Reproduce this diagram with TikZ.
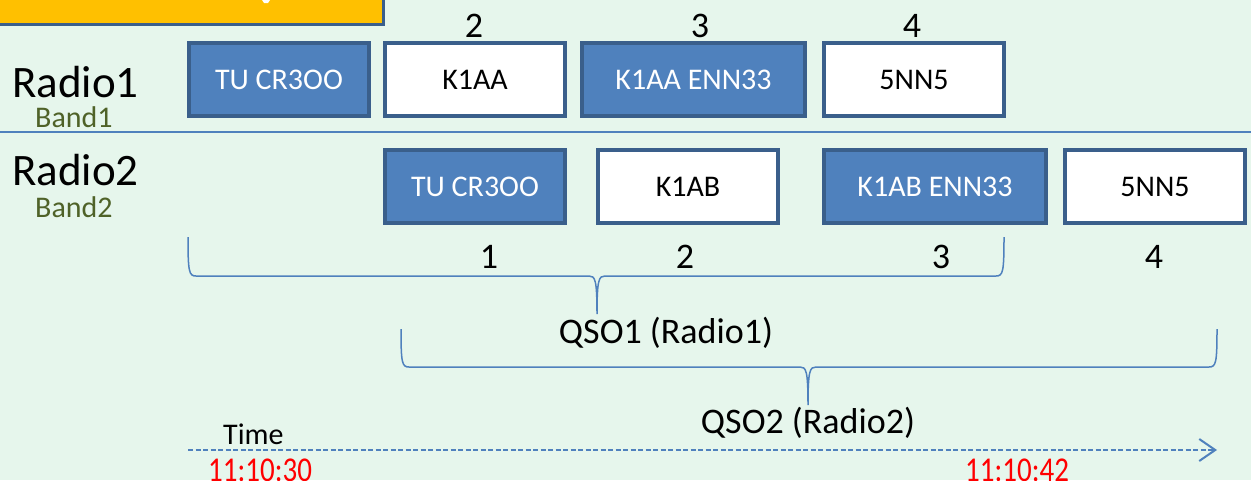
\documentclass[tikz,border=0pt]{standalone}
\usepackage{fontspec}
\setmainfont{Carlito}
\usetikzlibrary{arrows.meta}
\definecolor{bg}{RGB}{230,246,236}
\definecolor{boxfill}{HTML}{4F81BD}
\definecolor{boxline}{HTML}{3A5F8B}
\definecolor{bandgreen}{HTML}{4F6228}
\definecolor{gold}{HTML}{FFC000}
\definecolor{timered}{HTML}{FF0000}
\begin{document}
\begin{tikzpicture}[x=1pt,y=-1pt,
  msg/.style={draw=boxline, line width=4pt, inner sep=0pt, outer sep=0pt,
    minimum height=73pt, font=\fontsize{30}{36}\selectfont},
  sent/.style={msg, fill=boxfill, text=white},
  recv/.style={msg, fill=white, text=black},
  num/.style={font=\fontsize{36}{40}\selectfont, anchor=base, inner sep=0pt},
  radio/.style={font=\fontsize{45}{50}\selectfont, anchor=base west, inner sep=0pt},
  band/.style={font=\fontsize{30}{34}\selectfont, text=bandgreen, anchor=base west, inner sep=0pt},
  qso/.style={font=\fontsize{36}{40}\selectfont, anchor=base, inner sep=0pt},
  clock/.style={font=\fontsize{29}{32}\selectfont, text=timered, anchor=base west, inner sep=0pt},
  bracel/.style={draw=boxfill, line width=1.5pt},
]
\useasboundingbox (0,0) rectangle (1251,480);
\clip (0,0) rectangle (1251,480);
\fill[bg] (0,0) rectangle (1251,480);

% cut-off yellow box
\draw[fill=gold, draw=boxline, line width=3pt] (-20,-20) rectangle (383,24.5);
\fill[white] (262,0) -- (270,0) -- (268,3) -- (264,3) -- cycle;

% divider
\draw[boxfill, line width=1.5pt] (0,132) -- (1251,132);

% labels
\node[radio] (r1) at (12,97) {Radio1};
\node[band] (b1) at (35,127) {Band1};
\node[radio] (r2) at (12,185) {Radio2};
\node[band] (b2) at (35,217) {Band2};

% Radio1 row
\node[sent, minimum width=180pt] (a1) at (279,79.5) {TU CR3OO};
\node[recv, minimum width=180pt] (a2) at (475,79.5) {K1AA};
\node[sent, minimum width=223pt] (a3) at (693.5,79.5) {K1AA ENN33};
\node[recv, minimum width=180pt] (a4) at (914,79.5) {5NN5};
\node[num] (n2) at (474,37) {2};
\node[num] (n3) at (700,37) {3};
\node[num] (n4) at (912,37) {4};

% Radio2 row
\node[sent, minimum width=180pt] (c1) at (475,186.5) {TU CR3OO};
\node[recv, minimum width=180pt] (c2) at (688,186.5) {K1AB};
\node[sent, minimum width=222pt] (c3) at (935,186.5) {K1AB ENN33};
\node[recv, minimum width=180pt] (c4) at (1155,186.5) {5NN5};
\node[num] (m1) at (489,268) {1};
\node[num] (m2) at (685,268) {2};
\node[num] (m3) at (941,268) {3};
\node[num] (m4) at (1154,268) {4};

% brace 1
\draw[bracel] (188,237) .. controls (188,272) and (189,276) .. (196,276)
  -- (589,276) .. controls (595,276) and (597,279) .. (597,314)
  .. controls (597,279) and (599,276) .. (605,276)
  -- (996,276) .. controls (1003,276) and (1004,272) .. (1004,237);
\node[qso] (q1) at (666,343) {QSO1 (Radio1)};

% brace 2
\draw[bracel] (401,329) .. controls (401,363) and (402,367) .. (409,367)
  -- (800,367) .. controls (806,367) and (808,370) .. (808,405)
  .. controls (808,370) and (810,367) .. (816,367)
  -- (1209,367) .. controls (1216,367) and (1217,363) .. (1217,329);
\node[qso] (q2) at (808,433) {QSO2 (Radio2)};

% time axis
\coordinate (t0) at (188,450);
\coordinate (t1) at (1217,450);
\draw[boxfill, line width=2pt, dash pattern=on 5pt off 2.5pt,
  -{Straight Barb[length=16pt,width=22pt,line width=2pt]}] (t0) -- (t1);
\node[font=\fontsize{30}{34}\selectfont, anchor=base west, inner sep=0pt] (time) at (223,444) {Time};
\node[clock] (tA) at (208,481) {\scalebox{1}[1.2]{11:10:30}};
\node[clock] (tB) at (965,481) {\scalebox{1}[1.2]{11:10:42}};
\end{tikzpicture}
\end{document}
